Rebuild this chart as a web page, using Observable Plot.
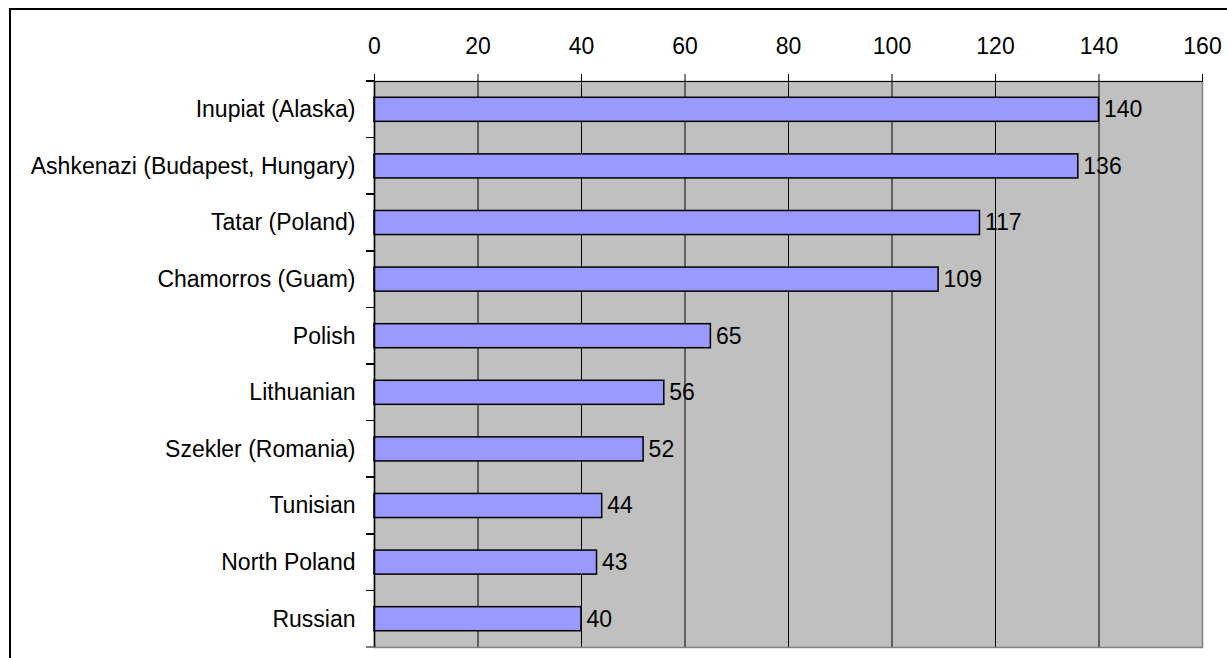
<!DOCTYPE html>
<html>
<head>
<meta charset="utf-8">
<script src="https://cdn.jsdelivr.net/npm/d3@7"></script>
<script src="https://cdn.jsdelivr.net/npm/@observablehq/plot@0.6"></script>
<style>
  html, body { margin: 0; padding: 0; overflow: hidden; background: #fff; width: 1227px; height: 658px; }
  #frame { position: absolute; left: 9px; top: 8px; width: 1400px; height: 900px; border: 2px solid #000; box-sizing: border-box; }
  #chart { position: absolute; left: 0; top: 0; }
</style>
</head>
<body>
<div id="frame"></div>
<div id="chart"></div>
<script>
const categories = [
  "Inupiat (Alaska)",
  "Ashkenazi (Budapest, Hungary)",
  "Tatar (Poland)",
  "Chamorros (Guam)",
  "Polish",
  "Lithuanian",
  "Szekler (Romania)",
  "Tunisian",
  "North Poland",
  "Russian"
];
const values = [140, 136, 117, 109, 65, 56, 52, 44, 43, 40];
const xTicks = [0, 20, 40, 60, 80, 100, 120, 140, 160];

const data = categories.map((c, i) => ({category: c, value: values[i]}));

// boundary tick marks on the category axis, placed from the band scale
function bandBoundaryTicks(index, scales, vals, dims) {
  const y = scales.y;
  const step = y.step(), bw = y.bandwidth();
  const g = d3.create("svg:g");
  const xs = dims.marginLeft;
  const tops = categories.map(c => y(c) - (step - bw) / 2);
  tops.push(tops[tops.length - 1] + step);
  tops.forEach((t, i) => {
    g.append("line")
      .attr("x1", xs - 8).attr("x2", xs)
      .attr("y1", t).attr("y2", t)
      .attr("stroke", i === tops.length - 1 ? "#808080" : "#000")
      .attr("stroke-width", 1.5)
      .attr("shape-rendering", "crispEdges");
  });
  return g.node();
}

const chart = Plot.plot({
  width: 1227,
  height: 658,
  marginLeft: 374,
  marginRight: 25,
  marginTop: 81,
  marginBottom: 11,
  style: {fontFamily: "'Liberation Sans', Arial, sans-serif", fontSize: "23px", color: "#000", background: "transparent", overflow: "visible"},
  x: {domain: [0, 160], ticks: xTicks},
  y: {domain: categories, paddingInner: 0.575, paddingOuter: 0.2875, round: false},
  marks: [
    Plot.frame({fill: "#C0C0C0", stroke: null}),
    Plot.gridX(xTicks.filter(t => t > 0 && t < 160), {stroke: "#000", strokeOpacity: 1, strokeWidth: 1}),
    Plot.frame({stroke: "#808080", strokeWidth: 1.5}),
    Plot.barX(data, {x: "value", y: "category", fill: "#9999FF", stroke: "#000", strokeWidth: 1.5}),
    Plot.text(data, {x: "value", y: "category", text: d => String(d.value), textAnchor: "start", dx: 5, fill: "#000", fontSize: 23}),
    Plot.axisX({anchor: "top", ticks: xTicks, tickSize: 8, tickPadding: 20, fontSize: 23, tickFormat: d => String(d), label: null, stroke: "#000"}),
    Plot.frame({anchor: "top", stroke: "#000", strokeWidth: 1}),
    Plot.ruleX([0], {stroke: "#000", strokeWidth: 1.5}),
    Plot.axisY({tickSize: 0, tickPadding: 19, fontSize: 23, label: null}),
    Plot.frame({stroke: null, render: bandBoundaryTicks})
  ]
});
document.getElementById("chart").appendChild(chart);
</script>
</body>
</html>
